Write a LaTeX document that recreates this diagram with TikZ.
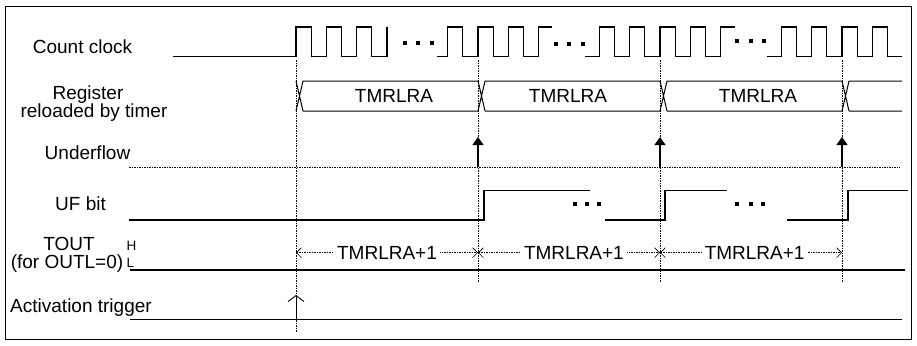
\documentclass[tikz,border=0pt]{standalone}
\usepackage{fontspec}
\setmainfont{Liberation Sans}
\usetikzlibrary{arrows.meta}

\begin{document}
\begin{tikzpicture}[
    x=1pt, y=-1pt,
    every node/.style={font=\fontsize{19}{19}\selectfont, inner sep=0pt},
    frame/.style={line width=1pt},
    wave/.style={line width=1.1pt, line join=miter},
    bus/.style={line width=1pt},
    guide/.style={line width=0.6pt, dash pattern=on 2pt off 1.2pt on 0.6pt off 1.2pt},
    lbl/.style={anchor=base},
    lvl/.style={font=\fontsize{13.5}{13.5}\selectfont, anchor=base west},
    dimline/.style={line width=0.6pt, dash pattern=on 1.5pt off 1pt,
        {Straight Barb[length=5pt,width=10pt]}-{Straight Barb[length=5pt,width=10pt]}},
    dimtxt/.style={fill=white, inner xsep=3pt, inner ysep=2pt},
    ufarrow/.style={line width=1.1pt, -{Triangle[length=8pt,width=11pt]}},
    trigarrow/.style={line width=0.9pt, -{Straight Barb[length=6pt,width=16pt]}}
]
    \useasboundingbox (0,0) rectangle (917,345);
    \draw[frame] (5,6.5) rectangle (911,339.5);

    % signal names
    \node[lbl] (clk) at (82.5,53) {Count clock};
    \node[lbl] (regA) at (88,99) {Register};
    \node[lbl] (regB) at (94,117.5) {reloaded by timer};
    \node[lbl] (uflow) at (87.5,159) {Underflow};
    \node[lbl] (ufbit) at (80.5,210) {UF bit};
    \node[lbl] (tout) at (69,250) {TOUT};
    \node[lbl] (toutsub) at (67,268) {(for OUTL=0)};
    \node[lvl] (lvlH) at (126.5,250) {H};
    \node[lvl] (lvlL) at (126.5,267) {L};
    \node[lbl] (trig) at (81,312) {Activation trigger};

    % reload edges
    \draw[guide] (296,60) -- (296,333);
    \foreach \r in {478,660,842}
        \draw[guide] (\r,60) -- (\r,282);
    \draw[guide] (129,167) -- (900,167);

    % count clock
    \draw[wave] (173,56.5) foreach \r in {296,326.3,356.7} {
        -- (\r,56.5) -- (\r,27) -- (\r+15.2,27) -- (\r+15.2,56.5)} -- (387,56.5) -- (387,27);
    \draw[wave] (437,56.5) foreach \r in {447.7,478,508.3} {
        -- (\r,56.5) -- (\r,27) -- (\r+15.2,27) -- (\r+15.2,56.5)} -- (538.7,56.5) -- (538.7,27) -- (551.7,27);
    \draw[wave] (585,56.5) foreach \r in {599.3,629.7,660,690.3} {
        -- (\r,56.5) -- (\r,27) -- (\r+15.2,27) -- (\r+15.2,56.5)} -- (720.7,56.5) -- (720.7,27) -- (735,27);
    \draw[wave] (767,56.5) foreach \r in {781.3,811.7,842,872.3} {
        -- (\r,56.5) -- (\r,27) -- (\r+15.2,27) -- (\r+15.2,56.5)} -- (902,56.5);
    \foreach \d/\h in {405/43,418/43,432/43,556/44,569/44,583/44,737/41,751/41,764/41}
        \fill (\d-2,\h-2) rectangle (\d+2,\h+2);

    % register
    \foreach \r/\n in {296/478,478/660,660/842,842/902}
        \draw[bus] (\r,81) -- (\r+7,111) (\r,111) -- (\r+7,81) -- (\n,81) (\r+7,111) -- (\n,111);
    \node (val1) at (394,96) {TMRLRA};
    \node (val2) at (568,96) {TMRLRA};
    \node (val3) at (758,96) {TMRLRA};

    % underflow
    \foreach \r [count=\i] in {478,660,842} {
        \coordinate (ufb\i) at (\r,167);
        \coordinate (uft\i) at (\r,137);
        \draw[ufarrow] (ufb\i) -- (uft\i);
    }

    % UF bit
    \draw[wave] (129,220) -- (484,220) -- (484,190.7) -- (590,190.7);
    \draw[wave] (605,220) -- (665,220) -- (665,190.7) -- (727,190.7);
    \draw[wave] (787,220) -- (848,220) -- (848,190.7) -- (908,190.7);
    \foreach \d in {575,587,599,737,751,763}
        \fill (\d-2,202) rectangle (\d+2,206);

    % TOUT
    \draw[wave] (130,270) -- (905,270);
    \coordinate (d0) at (296,252.7);
    \coordinate (d1) at (478,252.7);
    \coordinate (d2) at (660,252.7);
    \coordinate (d3) at (842,252.7);
    \draw[dimline] (d0) -- node[dimtxt, pos=0.5] (len1) {TMRLRA+1} (d1);
    \draw[dimline] (d1) -- node[dimtxt, pos=0.527] (len2) {TMRLRA+1} (d2);
    \draw[dimline] (d2) -- node[dimtxt, pos=0.52] (len3) {TMRLRA+1} (d3);

    % activation trigger
    \draw[wave] (130,319.3) -- (902,319.3);
    \coordinate (trgb) at (296,319.3);
    \coordinate (trgt) at (296,295);
    \draw[trigarrow] (trgb) -- (trgt);
\end{tikzpicture}
\end{document}
